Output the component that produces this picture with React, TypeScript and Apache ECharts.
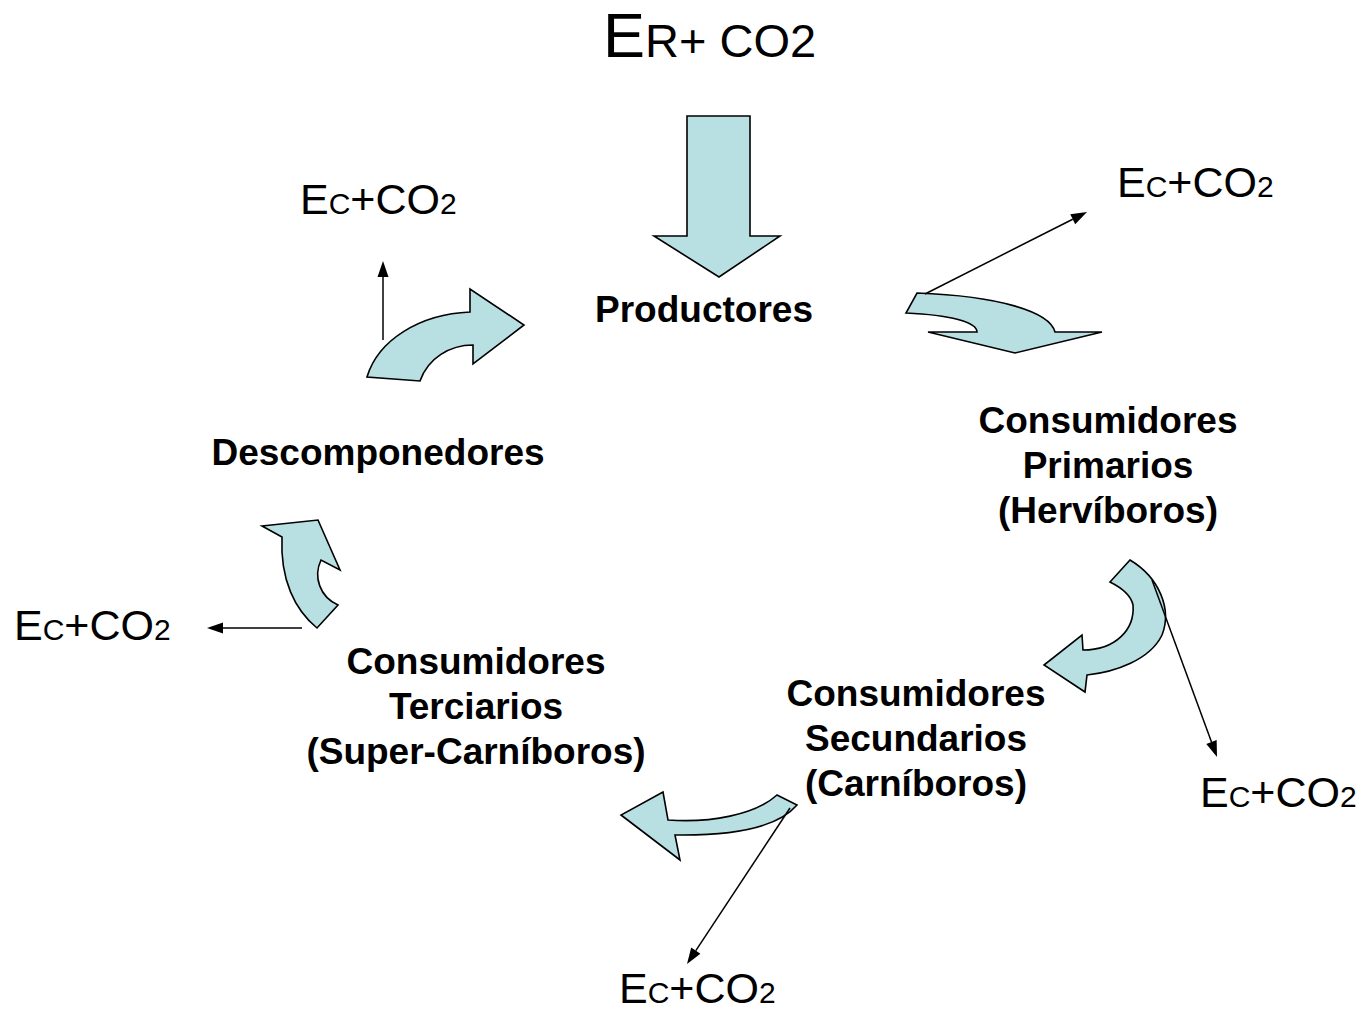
import React, { useEffect, useRef } from "react";
import * as echarts from "echarts";

const FONT = "Liberation Sans";
const FILL = "#b8dfe2";

// Stage labels (bold), lines and their baselines
const stageLabels = [
  { lines: ["Productores"], cx: 704, baselines: [322] },
  { lines: ["Consumidores", "Primarios", "(Hervíboros)"], cx: 1108, baselines: [433, 478, 523] },
  { lines: ["Descomponedores"], cx: 378, baselines: [465] },
  { lines: ["Consumidores", "Terciarios", "(Super-Carníboros)"], cx: 476, baselines: [674, 719, 764] },
  { lines: ["Consumidores", "Secundarios", "(Carníboros)"], cx: 916, baselines: [706, 751, 796] },
];

// Energy + CO2 labels
const titleParts = [
  { t: "E", s: 63 },
  { t: "R+ CO", s: 47 },
  { t: "2", s: 47 },
];
const energyParts = [
  { t: "E", s: 43 },
  { t: "C", s: 30 },
  { t: "+CO", s: 43 },
  { t: "2", s: 30 },
];
const energyLabelPos = [
  [303, 214],
  [1120, 197],
  [17, 640],
  [1203, 807],
  [622, 1003],
];

// Block arrows (SVG paths)
const blockArrows = [
  "M687,116 L750,116 L750,236 L780,236 L719,277 L654,236 L687,236 Z",
  "M917,293 C1000,296 1050,312 1055,332 L1102,332 L1015,353 L928,332 L977,332 C977,322 950,315 906,313 Z",
  "M367,377 C378,340 420,314 470,312 L470,289 L524,325 L473,364 L473,345 C450,345 428,358 420,381 Z",
  "M317,628 C295,610 280,580 282,537 L262,526 L318,520 L340,570 L321,560 C313,577 320,597 338,605 Z",
  "M1110,582 L1130,560 C1160,578 1172,610 1162,635 C1150,660 1115,672 1087,675 L1085,692 L1044,665 L1082,635 L1083,650 C1115,650 1135,630 1133,605 C1131,595 1122,588 1110,582 Z",
  "M777,795 L797,805 C780,825 740,836 675,835 L680,860 L621,815 L663,792 L668,820 C710,823 755,815 777,795 Z",
];

// Thin release arrows
const thinArrows = [
  [925, 294, 1087, 212],
  [383, 340, 383, 261],
  [302, 628, 207, 628],
  [1152, 580, 1217, 757],
  [790, 808, 687, 964],
];

const CENTRAL = 0.3466;

function measure(t: string, size: number, bold = false) {
  const c = document.createElement("canvas").getContext("2d")!;
  c.font = `${bold ? "bold " : ""}${size}px "${FONT}"`;
  return c.measureText(t).width;
}

function partsGroup(x: number, baseline: number, parts: { t: string; s: number }[], scaleX: number) {
  let off = 0;
  const children: any[] = [];
  parts.forEach((p) => {
    children.push({
      type: "text",
      x: off,
      y: -CENTRAL * p.s,
      style: {
        text: p.t,
        fontFamily: FONT,
        fontSize: p.s,
        lineHeight: Math.round(p.s * 0.85),
        fill: "#000",
        align: "left",
        verticalAlign: "middle",
      },
    });
    off += measure(p.t, p.s);
  });
  return { type: "group", x, y: baseline, scaleX, children };
}

function arrowHead(x1: number, y1: number, x2: number, y2: number, len = 16, hw = 5.5) {
  const dx = x2 - x1;
  const dy = y2 - y1;
  const L = Math.hypot(dx, dy);
  const ux = dx / L;
  const uy = dy / L;
  const bx = x2 - ux * len;
  const by = y2 - uy * len;
  return {
    base: [bx, by],
    pts: [
      [x2, y2],
      [bx - uy * hw, by + ux * hw],
      [bx + uy * hw, by - ux * hw],
    ],
  };
}

export default function App() {
  const ref = useRef<HTMLDivElement>(null);
  useEffect(() => {
    if (!ref.current) return;
    document.body.style.margin = "0";
    blockArrows.forEach((d, i) => {
      echarts.graphic.registerShape("blockArrow" + i, echarts.graphic.extendPath(d, {}) as any);
    });
    const chart = echarts.init(ref.current, null, { renderer: "svg" });
    const elements: any[] = [];
    elements.push({ type: "rect", shape: { x: 0, y: 0, width: 1366, height: 1013 }, style: { fill: "#fff" } });
    blockArrows.forEach((_, i) => {
      elements.push({
        type: "blockArrow" + i,
        x: 0,
        y: 0,
        scaleX: 1,
        scaleY: 1,
        style: { fill: FILL, stroke: "#000", lineWidth: 1.6, lineJoin: "miter" },
      });
    });
    thinArrows.forEach(([x1, y1, x2, y2]) => {
      const h = arrowHead(x1, y1, x2, y2);
      elements.push({
        type: "line",
        shape: { x1, y1, x2: h.base[0], y2: h.base[1] },
        style: { stroke: "#000", lineWidth: 1.5 },
      });
      elements.push({
        type: "polygon",
        shape: { points: h.pts },
        style: { fill: "#000" },
      });
    });
    stageLabels.forEach((lab) => {
      lab.lines.forEach((ln, i) => {
        elements.push({
          type: "text",
          x: lab.cx,
          y: lab.baselines[i] - CENTRAL * 37,
          style: {
            text: ln,
            fontFamily: FONT,
            fontWeight: "bold",
            fontSize: 37,
            fill: "#000",
            align: "center",
            verticalAlign: "middle",
          },
        });
      });
    });
    elements.push(partsGroup(603, 57, titleParts, 1));
    energyLabelPos.forEach(([x, y]) => {
      elements.push(partsGroup(x - 3, y, energyParts, 1));
    });
    chart.setOption({ animation: false, graphic: { elements } });
    return () => chart.dispose();
  }, []);
  return (
    <div
      ref={ref}
      style={{ position: "absolute", left: 0, top: 0, width: 1366, height: 1013, background: "#fff" }}
    />
  );
}
